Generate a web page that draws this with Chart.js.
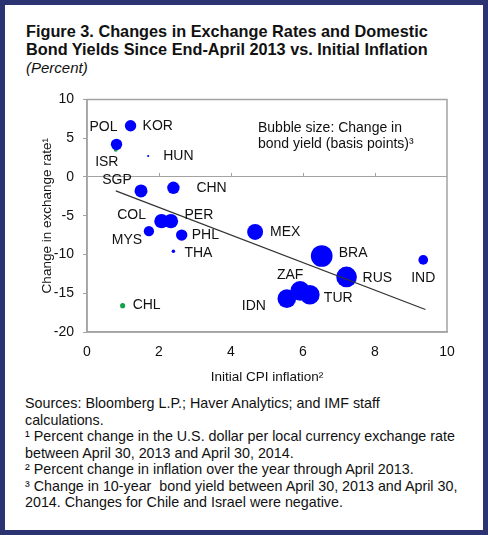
<!DOCTYPE html>
<html>
<head>
<meta charset="utf-8">
<script src="https://cdn.jsdelivr.net/npm/chart.js@4.4.0/dist/chart.umd.min.js"></script>
<style>
  body { margin: 0; background: #fff; font-family: "Liberation Sans", Arial, sans-serif; }
  #frame { position: relative; width: 488px; height: 535px; box-sizing: border-box; border: 5px solid #2b3470; background: #fff; }
  #title { position: absolute; left: 21px; top: 17px; font-weight: bold; font-size: 16.3px; line-height: 18px; color: #111; white-space: nowrap; }
  #title i { font-weight: normal; font-size: 15px; }
  #wrap { position: absolute; left: 5px; top: 77px; width: 460px; height: 310px; }
  #bubbleNote { position: absolute; left: 253px; top: 114px; font-size: 14px; line-height: 16px; color: #111; white-space: nowrap; }
  #notes { position: absolute; left: 20px; top: 390px; font-size: 14.3px; line-height: 16.5px; color: #111; white-space: nowrap; }
</style>
</head>
<body>
<div id="frame">
  <div id="title">Figure 3. Changes in Exchange Rates and Domestic<br>Bond Yields Since End-April 2013 vs. Initial Inflation<br><i>(Percent)</i></div>
  <div id="wrap"><canvas id="chart" width="460" height="310"></canvas></div>
  <div id="bubbleNote">Bubble size: Change in<br>bond yield (basis points)³</div>
  <div id="notes">Sources: Bloomberg L.P.; Haver Analytics; and IMF staff<br>calculations.<br>¹ Percent change in the U.S. dollar per local currency exchange rate<br>between April 30, 2013 and April 30, 2014.<br>² Percent change in inflation over the year through April 2013.<br>³ Change in 10-year&nbsp; bond yield between April 30, 2013 and April 30,<br>2014. Changes for Chile and Israel were negative.</div>
</div>
<script>
const countries  = ['ISR','POL','KOR','HUN','SGP','CHN','COL','PER','MYS','PHL','THA','CHL','MEX','BRA','RUS','IND','IDN','ZAF','TUR'];
const inflation  = [0.8, 0.82, 1.21, 1.7, 1.5, 2.4, 2.07, 2.33, 1.72, 2.63, 2.4, 0.99, 4.67, 6.52, 7.21, 9.34, 5.55, 5.92, 6.19];
const fxChange   = [3.5, 4.2, 6.6, 2.7, -1.8, -1.4, -5.7, -5.7, -7.0, -7.5, -9.6, -16.6, -7.1, -10.2, -12.9, -10.7, -15.7, -14.7, -15.2];
const bondChange = [-11, 84, 84, 3, 110, 100, 136, 136, 69, 84, 8, -17, 165, 306, 278, 61, 225, 250, 250];
const trendX = [0.8, 9.4];
const trendY = [-1.8, -17.1];
const xTicks = [0, 2, 4, 6, 8, 10];
const yTicks = [-20, -15, -10, -5, 0, 5, 10];

// label placement: [dx, dy, align] relative to bubble centre
const labelPos = {
  ISR: [-9, 12, 'center'], POL: [-13, -17, 'center'], KOR: [12, 0, 'left'], HUN: [15, 0, 'left'],
  SGP: [-24, -11, 'center'], CHN: [23, 0, 'left'], COL: [-30, -6, 'center'], PER: [28, -6, 'center'],
  MYS: [-22, 9, 'center'], PHL: [10, 0, 'left'], THA: [11, 2, 'left'], CHL: [10, 0, 'left'],
  MEX: [15, 0, 'left'], BRA: [17, -3, 'left'], RUS: [16, 1, 'left'], IND: [0, 18, 'center'],
  IDN: [-33, 7, 'center'], ZAF: [-10, -16, 'center'], TUR: [14, 3, 'left']
};

const FONT = '"Liberation Sans", Arial, sans-serif';
const GREY = '#a3a3a3';
Chart.defaults.font.family = FONT;
Chart.defaults.color = '#111';

const bubbles = countries.map((c, i) => ({
  x: inflation[i], y: fxChange[i], r: 0.62 * Math.sqrt(Math.abs(bondChange[i]))
}));

const framePlugin = {
  id: 'frame',
  afterDraw(chart) {
    const { ctx, chartArea: a, scales } = chart;
    const sx = scales.x, sy = scales.y;
    ctx.save();
    ctx.strokeStyle = GREY;
    ctx.lineWidth = 1.5;
    ctx.beginPath();
    ctx.rect(a.left, a.top, a.right - a.left, a.bottom - a.top);
    ctx.stroke();
    // tick marks on the zero line
    const y0 = sy.getPixelForValue(0);
    ctx.lineWidth = 1;
    ctx.beginPath();
    xTicks.slice(1, -1).forEach(v => {
      const px = Math.round(sx.getPixelForValue(v)) + 0.5;
      ctx.moveTo(px, y0); ctx.lineTo(px, y0 - 4);
    });
    ctx.stroke();
    // country labels
    const meta = chart.getDatasetMeta(1);
    ctx.font = '14px ' + FONT;
    ctx.fillStyle = '#111';
    ctx.textBaseline = 'middle';
    meta.data.forEach((pt, i) => {
      const [dx, dy, al] = labelPos[countries[i]];
      ctx.textAlign = al;
      ctx.fillText(countries[i], pt.x + dx, pt.y + dy);
    });
    ctx.restore();
  }
};

new Chart(document.getElementById('chart'), {
  type: 'bubble',
  data: {
    datasets: [
      {
        type: 'line', label: 'trend', order: 0,
        data: trendX.map((v, i) => ({ x: v, y: trendY[i] })),
        borderColor: '#333333', borderWidth: 1.3, pointRadius: 0, fill: false
      },
      {
        label: 'countries', order: 1,
        data: bubbles,
        backgroundColor: bondChange.map(b => b < 0 ? '#13a04a' : '#0000ff'),
        borderWidth: 0, hoverRadius: 0
      }
    ]
  },
  options: {
    responsive: false, animation: false,
    layout: { padding: { left: 10, right: 23, top: 13, bottom: 0 } },
    plugins: { legend: { display: false }, tooltip: { enabled: false } },
    scales: {
      x: {
        type: 'linear', min: 0, max: 10,
        afterBuildTicks: s => { s.ticks = xTicks.map(v => ({ value: v })); },
        afterFit: s => { s.height = 60; },
        grid: { display: false },
        border: { display: true, color: GREY, width: 1.5 },
        ticks: { font: { size: 14 }, padding: 4 },
        title: { display: true, text: 'Initial CPI inflation²', font: { size: 13.5 }, padding: { bottom: 7 } }
      },
      y: {
        type: 'linear', min: -20, max: 10,
        afterBuildTicks: s => { s.ticks = yTicks.map(v => ({ value: v })); },
        afterFit: s => { s.width = 67; },
        grid: { color: c => c.tick && c.tick.value === 0 ? GREY : 'rgba(0,0,0,0)', tickColor: GREY, tickLength: 4 },
        border: { display: true, color: GREY, width: 1.5 },
        ticks: { font: { size: 14 }, padding: 9 },
        title: { display: true, text: 'Change in exchange rate¹', font: { size: 13.5 }, padding: { top: 19 } }
      }
    }
  },
  plugins: [framePlugin]
});
</script>
</body>
</html>
